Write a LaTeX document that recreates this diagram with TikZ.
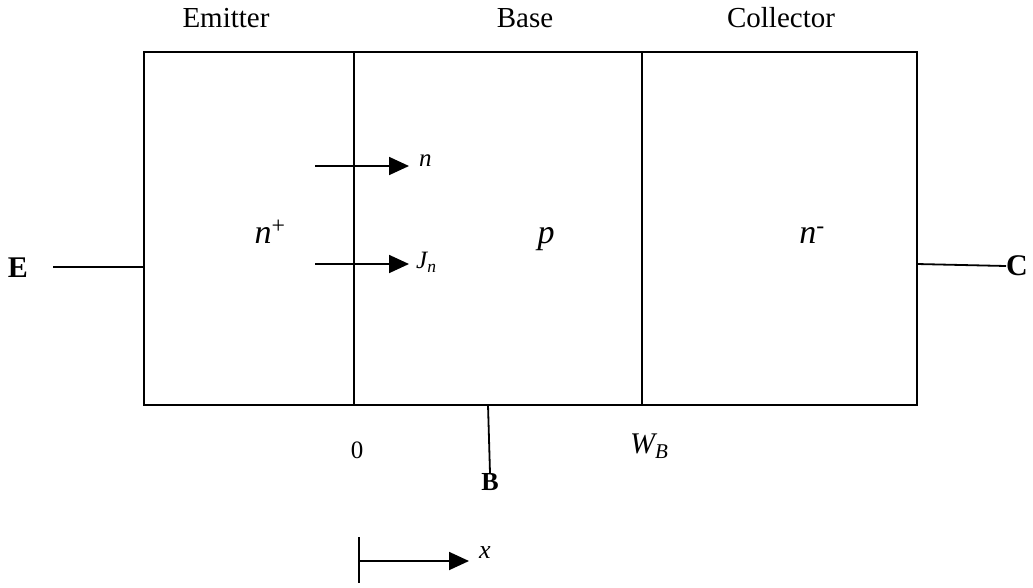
\documentclass[tikz,border=0pt]{standalone}
\usepackage{fontspec}
\setmainfont{Liberation Serif}
\usetikzlibrary{arrows.meta}
\tikzset{
  wire/.style={line width=1.8pt},
  flow/.style={line width=1.8pt,-{Triangle[length=20pt,width=18pt]}},
  lab/.style={inner sep=0pt,font=\fontsize{29}{32}\selectfont},
  big/.style={inner sep=0pt,font=\fontsize{34}{38}\selectfont\itshape},
  small/.style={inner sep=0pt,font=\fontsize{25}{28}\selectfont},
}
\begin{document}
\begin{tikzpicture}[x=1pt,y=-1pt]
\useasboundingbox (0,0) rectangle (1033,587);
% box
\coordinate (tl) at (144,52);
\coordinate (br) at (917,405);
\draw[wire] (tl) rectangle (br);
\coordinate (d1t) at (354,52); \coordinate (d1b) at (354,405);
\coordinate (d2t) at (642,52); \coordinate (d2b) at (642,405);
\draw[wire] (d1t) -- (d1b);
\draw[wire] (d2t) -- (d2b);
% region labels
\node[lab,anchor=base] (em) at (226,27) {Emitter};
\node[lab,anchor=base] (ba) at (525,27) {Base};
\node[lab,anchor=base] (co) at (781,27) {Collector};
\node[big,anchor=base] (np) at (270,243) {n\textsuperscript{\upshape +}};
\node[big,anchor=base] (pp) at (546,243) {p};
\node[big,anchor=base] (nm) at (812,243) {n\textsuperscript{\upshape -}};
% terminals
\node[lab,font=\fontsize{30}{32}\selectfont\bfseries] (E) at (18,268) {E};
\coordinate (Ee) at (53,267);
\coordinate (Eb) at (144,267);
\draw[wire] (Ee) -- (Eb);
\coordinate (Cb) at (917,264);
\node[lab,font=\fontsize{30}{32}\selectfont\bfseries,anchor=west] (C) at (1006,266) {C};
\draw[wire] (Cb) -- (C.west);
\coordinate (Bt) at (488,405);
\node[lab,font=\fontsize{26}{28}\selectfont\bfseries,anchor=north] (B) at (490,473) {B};
\draw[wire] (Bt) -- (B.north);
% arrows in base
\coordinate (a1s) at (315,166); \coordinate (a1e) at (409,166);
\draw[flow] (a1s) -- (a1e);
\node[small,anchor=west,font=\fontsize{25}{28}\selectfont\itshape] (nl) at (419,161) {n};
\coordinate (a2s) at (315,264); \coordinate (a2e) at (409,264);
\draw[flow] (a2s) -- (a2e);
\node[small,anchor=west,font=\fontsize{25}{28}\selectfont\itshape] (jl) at (416,262) {J\textsubscript{n}};
% position labels
\node[small] (zero) at (357,450) {0};
\node[lab,anchor=west,font=\fontsize{30}{32}\selectfont\itshape] (wb) at (630,446) {W\textsubscript{B}};
% x axis
\coordinate (xt) at (359,537); \coordinate (xb) at (359,583);
\draw[wire] (xt) -- (xb);
\coordinate (x0) at (359,561); \coordinate (x1) at (469,561);
\draw[flow] (x0) -- (x1);
\node[small,anchor=west,font=\fontsize{26}{28}\selectfont\itshape] (xl) at (479,553) {x};
\end{tikzpicture}
\end{document}
